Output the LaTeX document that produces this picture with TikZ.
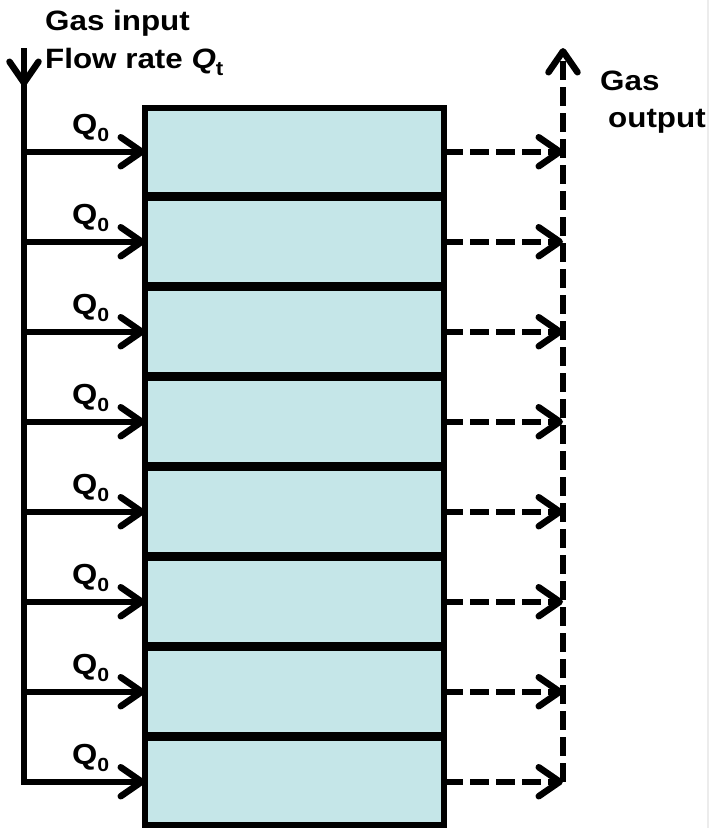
\documentclass[tikz,border=0pt]{standalone}
\usepackage{fontspec}
\setmainfont[FakeStretch=1.12]{Liberation Sans}
\usetikzlibrary{arrows.meta}
\definecolor{boxfill}{RGB}{197,230,232}
\begin{document}
\begin{tikzpicture}[x=1pt,y=-1pt,
  font=\fontsize{28}{28}\selectfont\bfseries,
  cell/.style={draw, line width=6.5pt, fill=boxfill, minimum width=299pt, minimum height=87.5pt, inner sep=0pt, outer sep=0pt, anchor=north west},
  flow/.style={line width=6.5pt, -{Straight Barb[length=21pt,width=29pt,round]}},
  dflow/.style={flow, dash pattern=on 19pt off 7pt},
  lbl/.style={inner sep=0pt, anchor=base west},
  qlbl/.style={lbl, font=\fontsize{29}{29}\selectfont\bfseries}]
\useasboundingbox (0,0) rectangle (710,828);
\draw[gray!15, line width=1.5pt] (708,0) -- (708,828);
% cells
\foreach \i in {1,...,8}
  \node[cell] (b\i) at (145, {108+90*(\i-1)}) {};
% input side
\coordinate (intop) at (24,48);
\coordinate (inmid) at (24,86);
\draw[flow] (intop) -- (inmid);
\draw[flow, line join=miter] (intop) |- (b8.west);
\foreach \i in {1,...,7}
  \draw[flow] (intop |- b\i.west) -- (b\i.west);
\foreach \i in {1,...,8}
  \node[qlbl] (q\i) at (72, {151.75+90*(\i-1)-17}) {Q\raisebox{-7pt}{\fontsize{19}{19}\selectfont 0}};
% output side
\coordinate (outx) at (563,0);
\coordinate (outtop) at (563,48);
\foreach \i in {1,...,8}
  \draw[dflow] (b\i.east) -- (outx |- b\i.east);
\draw[dflow] (outx |- b8.east) -- (outtop);
% texts
\node[lbl] (gin) at (45,30) {Gas input};
\node[lbl] (frate) at (45,68) {Flow rate \textit{Q}\raisebox{-7pt}{\fontsize{20}{20}\selectfont t}};
\node[lbl] (gout1) at (600,90) {Gas};
\node[lbl] (gout2) at (608,127) {output};
\end{tikzpicture}
\end{document}
